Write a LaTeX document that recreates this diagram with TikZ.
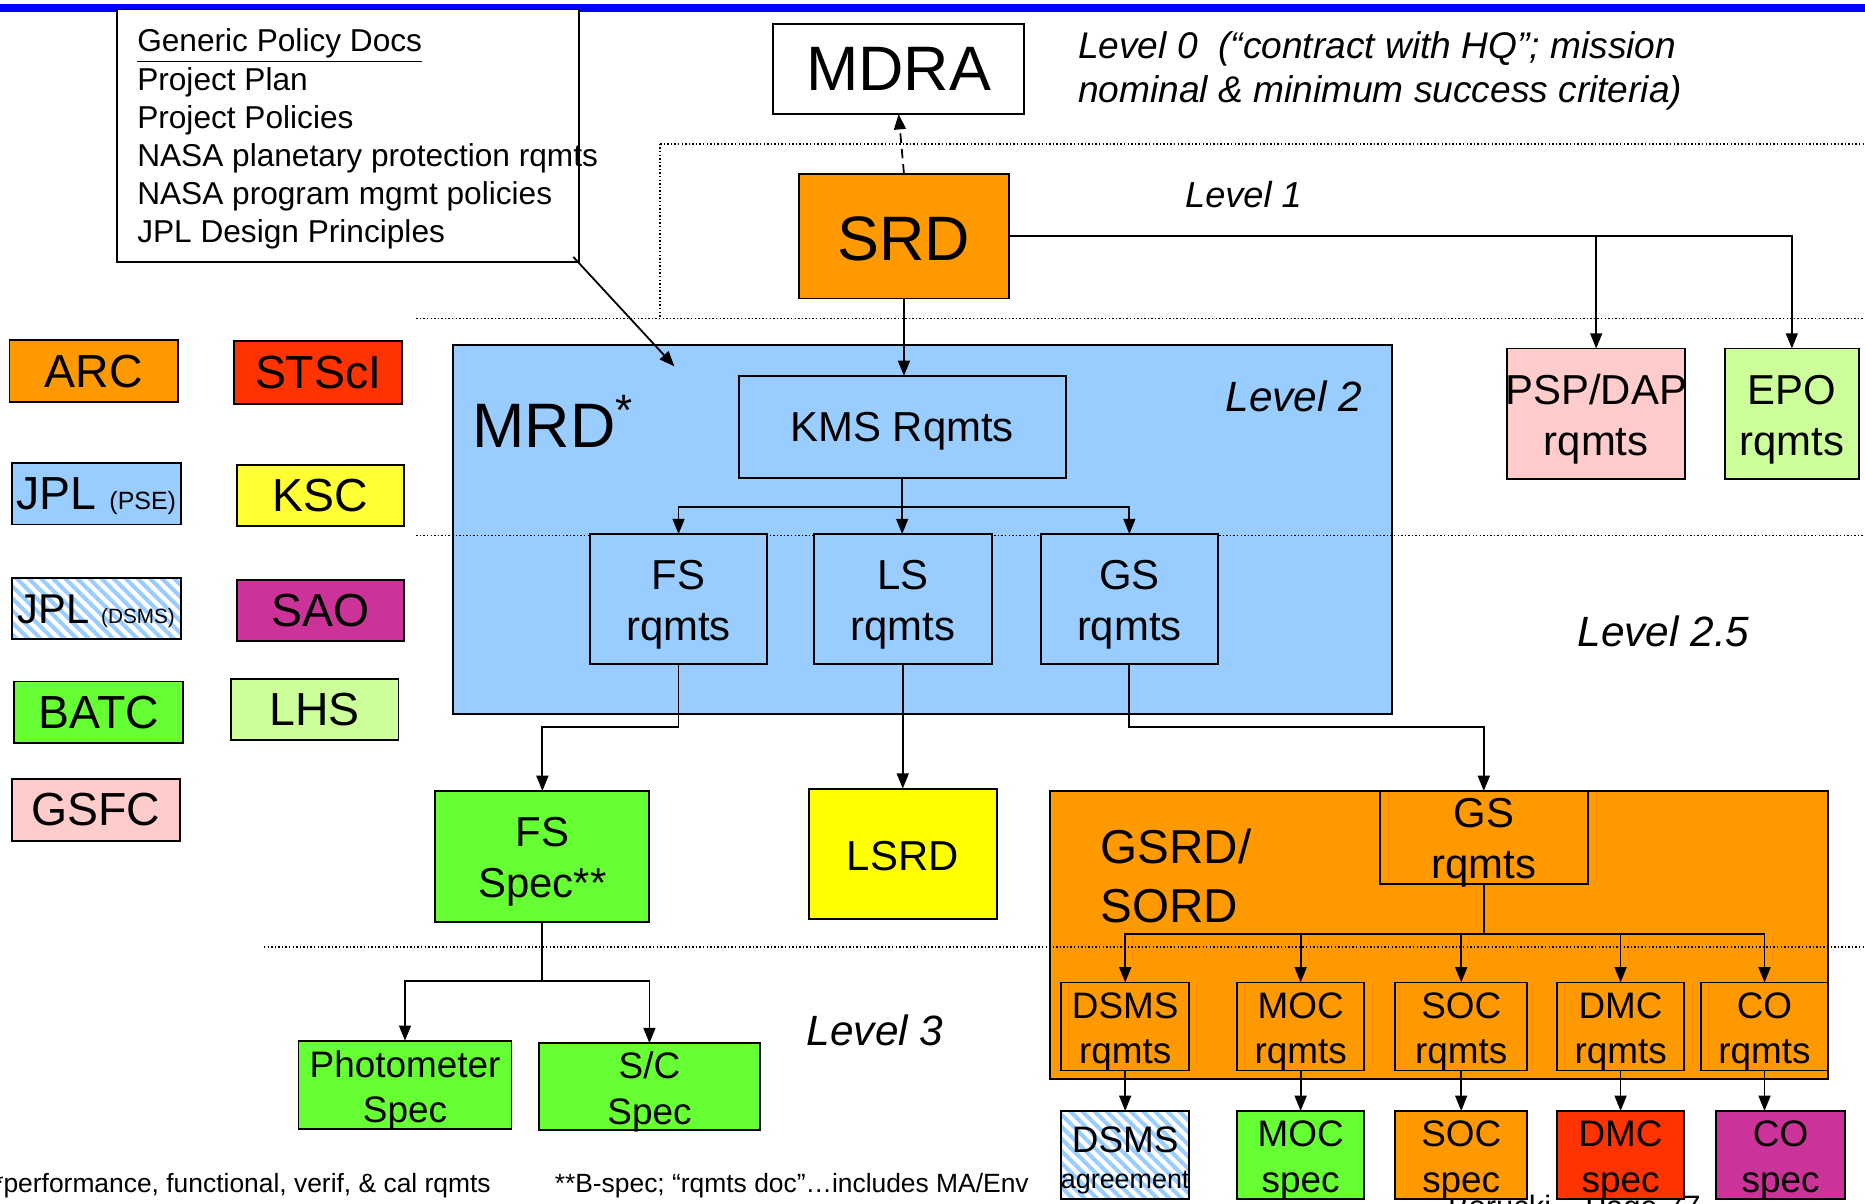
\documentclass[tikz,border=0pt]{standalone}
\usepackage{fontspec}
\setmainfont{Liberation Sans}
\usetikzlibrary{arrows.meta,patterns.meta}

\definecolor{cOrange}{HTML}{FF9900}
\definecolor{cBlue}{HTML}{99CCFF}
\definecolor{cRed}{HTML}{FF3300}
\definecolor{cYellow}{HTML}{FFFF33}
\definecolor{cYellowB}{HTML}{FFFF00}
\definecolor{cMag}{HTML}{CC3399}
\definecolor{cGreen}{HTML}{66FF33}
\definecolor{cLGreen}{HTML}{CCFF99}
\definecolor{cPink}{HTML}{FFCCCC}
\definecolor{cBar}{HTML}{0000FF}

\newcommand\fsz[2]{\fontsize{#1}{#2}\selectfont}

\tikzset{
  boxshape/.style={draw, line width=0.8pt, inner sep=0pt, outer sep=0pt},
  txt/.style={align=center, inner sep=0pt, outer sep=0pt},
  conn/.style={line width=0.75pt},
  arr/.style={conn, -{Triangle[length=6.4pt,width=5pt]}},
  dotln/.style={line width=0.6pt, dash pattern=on 0.6pt off 0.9pt},
  hatch/.style={preaction={fill=white}, pattern={Lines[angle=-45,distance=3.6pt,line width=1.7pt]}, pattern color=cBlue},
  bigtxt/.style={font=\fsz{26.4}{30}},
  midtxt/.style={font=\fsz{17.6}{21.5}},
  mid2/.style={font=\fsz{17.6}{21.5}, yshift=-2.3pt},
  sml2/.style={font=\fsz{15.5}{19}, yshift=-2.3pt},
  legtxt/.style={font=\fsz{19.5}{22}},
  lvl/.style={font=\fsz{17.8}{21}\itshape, inner sep=0pt, anchor=west},
}

\newcommand\mybox[8]{%
  \node[boxshape,#6,minimum width={(#4-#2)*0.5pt},minimum height={(#5-#3)*0.5pt}] (#1) at ({(#2+#4)/2},{(#3+#5)/2}) {};
  \node[txt,#7] (#1-t) at (#1.center) {#8};}

\begin{document}
\begin{tikzpicture}[x=0.5pt, y=-0.5pt]
\useasboundingbox (0,0) rectangle (1568,1012);

% top bar
\fill[cBar] (0,3) rectangle (1568,10);

% generic policy docs
\node[boxshape, fill=white, minimum width={(487-98)*0.5pt}, minimum height={(220-8)*0.5pt}] (gen) at ({(98+487)/2},{(8+220)/2}) {};
\node[font=\fsz{13.3}{16}, align=left, anchor=north west, inner sep=0pt] (gent) at (115,24)
  {\underline{Generic Policy Docs}\\Project Plan\\Project Policies\\NASA planetary protection rqmts\\NASA program mgmt policies\\JPL Design Principles};

% level dotted lines (upper)
\draw[dotln] (555,121) -- (1568,121);
\draw[dotln] (555,121) -- (555,268);
\draw[dotln] (350,268) -- (1568,268);

% MDRA / SRD
\mybox{mdra}{650}{20}{861}{96}{fill=white}{bigtxt}{MDRA}
\mybox{srd}{672}{146}{848}{251}{fill=cOrange}{bigtxt, yshift=-1pt}{SRD}

\node[font=\fsz{15.6}{18.5}\itshape, align=left, anchor=north west, inner sep=0pt] (lvl0) at (906,26)
  {Level 0\ \ (“contract with HQ”; mission\\nominal \& minimum success criteria)};
\node[font=\fsz{15.2}{18}\itshape, inner sep=0pt, anchor=west] (lvl1) at (996,164) {Level 1};

% legend
\mybox{arc}{8}{286}{150}{338}{fill=cOrange}{legtxt}{ARC}
\mybox{stsci}{197}{287}{338}{340}{fill=cRed}{legtxt}{STScI}
\mybox{jplp}{10}{389}{152}{441}{fill=cBlue}{legtxt, yshift=-1.2pt}{JPL {\fsz{10.5}{12}(PSE)}}
\mybox{ksc}{199}{391}{340}{442}{fill=cYellow}{legtxt}{KSC}
\mybox{jpld}{10}{486}{152}{537}{hatch}{font=\fsz{17.5}{20}, yshift=-1.2pt}{JPL {\fsz{8.7}{10}(DSMS)}}
\mybox{sao}{199}{488}{340}{539}{fill=cMag}{legtxt}{SAO}
\mybox{batc}{12}{573}{154}{625}{fill=cGreen}{legtxt}{BATC}
\mybox{lhs}{194}{571}{335}{622}{fill=cLGreen}{legtxt}{LHS}
\mybox{gsfc}{10}{655}{151}{707}{fill=cPink}{legtxt}{GSFC}

% MRD container
\node[boxshape, fill=cBlue, minimum width={(1170-381)*0.5pt}, minimum height={(600-290)*0.5pt}] (mrd) at ({(381+1170)/2},{(290+600)/2}) {};
\node[font=\fsz{26.4}{30}, anchor=base west, inner sep=0pt] (mrdt) at (397,376) {MRD\textsuperscript{*}};
\node[lvl] (lvl2) at (1030,333) {Level 2};
\draw[dotln] (350,450) -- (1568,450);

\mybox{kms}{621}{316}{896}{402}{fill=cBlue}{midtxt, yshift=-1.6pt}{KMS Rqmts}
\mybox{fsr}{496}{449}{645}{558}{fill=cBlue}{mid2}{FS\\rqmts}
\mybox{lsr}{684}{449}{834}{558}{fill=cBlue}{mid2}{LS\\rqmts}
\mybox{gsr}{875}{449}{1024}{558}{fill=cBlue}{mid2}{GS\\rqmts}

\mybox{psp}{1267}{293}{1417}{403}{fill=cPink}{mid2}{PSP/DAP\\rqmts}
\mybox{epo}{1450}{293}{1563}{403}{fill=cLGreen}{mid2}{EPO\\rqmts}
\node[lvl] (lvl25) at (1326,531) {Level 2.5};

% level 2.5 boxes
\mybox{fsspec}{366}{665}{546}{775}{fill=cGreen}{mid2}{FS\\Spec**}
\mybox{lsrd}{680}{663}{838}{773}{fill=cYellowB}{midtxt, yshift=-1pt}{LSRD}

\node[boxshape, fill=cOrange, minimum width={(1537-883)*0.5pt}, minimum height={(907-665)*0.5pt}] (gsrd) at ({(883+1537)/2},{(665+907)/2}) {};
\node[font=\fsz{20}{24.5}, align=left, anchor=north west, inner sep=0pt] (gsrdt) at (925,697) {GSRD/\\SORD};
\draw[dotln] (222,796) -- (1568,796);
\mybox{gsin}{1160}{665}{1335}{743}{fill=cOrange}{mid2}{GS\\rqmts}

\mybox{dsmsr}{892}{826}{1000}{900}{fill=cOrange}{sml2}{DSMS\\rqmts}
\mybox{mocr}{1040}{826}{1147}{900}{fill=cOrange}{sml2}{MOC\\rqmts}
\mybox{socr}{1173}{826}{1284}{900}{fill=cOrange}{sml2}{SOC\\rqmts}
\mybox{dmcr}{1309}{826}{1416}{900}{fill=cOrange}{sml2}{DMC\\rqmts}
\mybox{cor}{1430}{826}{1537}{900}{fill=cOrange}{sml2}{CO\\rqmts}

% page footer (mostly hidden behind the spec boxes)
\node[font=\fsz{13}{15}, anchor=north west, inner sep=0pt] (pg) at (1217,1004) {Borucki – Page 77};

\mybox{dsmsa}{892}{934}{1000}{1008}{hatch}{font=\fsz{15.5}{15}, yshift=-2.3pt}{DSMS\\{\fsz{11.3}{15}agreement}}
\mybox{mocs}{1040}{934}{1147}{1008}{fill=cGreen}{sml2}{MOC\\spec}
\mybox{socs}{1173}{934}{1284}{1008}{fill=cOrange}{sml2}{SOC\\spec}
\mybox{dmcs}{1309}{934}{1416}{1008}{fill=cRed}{sml2}{DMC\\spec}
\mybox{cos}{1443}{934}{1551}{1008}{fill=cMag}{sml2}{CO\\spec}

\mybox{phot}{251}{875}{430}{949}{fill=cGreen}{sml2}{Photometer\\Spec}
\mybox{sc}{453}{877}{639}{950}{fill=cGreen}{sml2}{S/C\\Spec}
\node[lvl] (lvl3) at (678,866) {Level 3};

% footnotes
\node[font=\fsz{11.1}{13}, anchor=base east, inner sep=0pt] (fn1) at (413,1003) {*performance, functional, verif, \& cal rqmts};
\node[font=\fsz{11.1}{13}, anchor=base west, inner sep=0pt] (fn2) at (466,1003) {**B-spec; “rqmts doc”…includes MA/Env};

% connectors
\draw[arr, dash pattern=on 4pt off 2.5pt] (srd.north) -- (mdra.south);
\draw[arr] (srd.east) -| (epo.north);
\draw[arr] (srd.east -| psp.north) -- (psp.north);
\draw[arr] (srd.south) -- (srd.south |- kms.north);
\coordinate (mrdptr) at (567,308);
\draw[arr] ([xshift=-2.5pt,yshift=2pt]gen.south east) -- (mrdptr);

\draw[arr] (kms.south) -- (kms.south |- lsr.north);
\draw[arr] (kms.south) -- ++(0,24) -| (fsr.north);
\draw[arr] (kms.south) -- ++(0,24) -| (gsr.north);

\draw[arr] (fsr.south) -- ++(0,53) -| (fsspec.north);
\draw[arr] (lsr.south) -- (lsr.south |- lsrd.north);
\draw[arr] (gsr.south) -- ++(0,53) -| (gsin.north);

\draw[arr] (gsin.south) -- ++(0,42) -| (dsmsr.north);
\draw[arr] (gsin.south) -- ++(0,42) -| (mocr.north);
\draw[arr] (gsin.south) -- ++(0,42) -| (socr.north);
\draw[arr] (gsin.south) -- ++(0,42) -| (dmcr.north);
\draw[arr] (gsin.south) -- ++(0,42) -| (cor.north);

\draw[arr] (dsmsr.south) -- (dsmsa.north);
\draw[arr] (mocr.south) -- (mocs.north);
\draw[arr] (socr.south) -- (socs.north);
\draw[arr] (dmcr.south) -- (dmcs.north);
\draw[arr] (cor.south) -- (cor.south |- cos.north);

\draw[arr] (fsspec.south) -- ++(0,50) -| (phot.north);
\draw[arr] (fsspec.south) -- ++(0,50) -| (sc.north);
\end{tikzpicture}
\end{document}
